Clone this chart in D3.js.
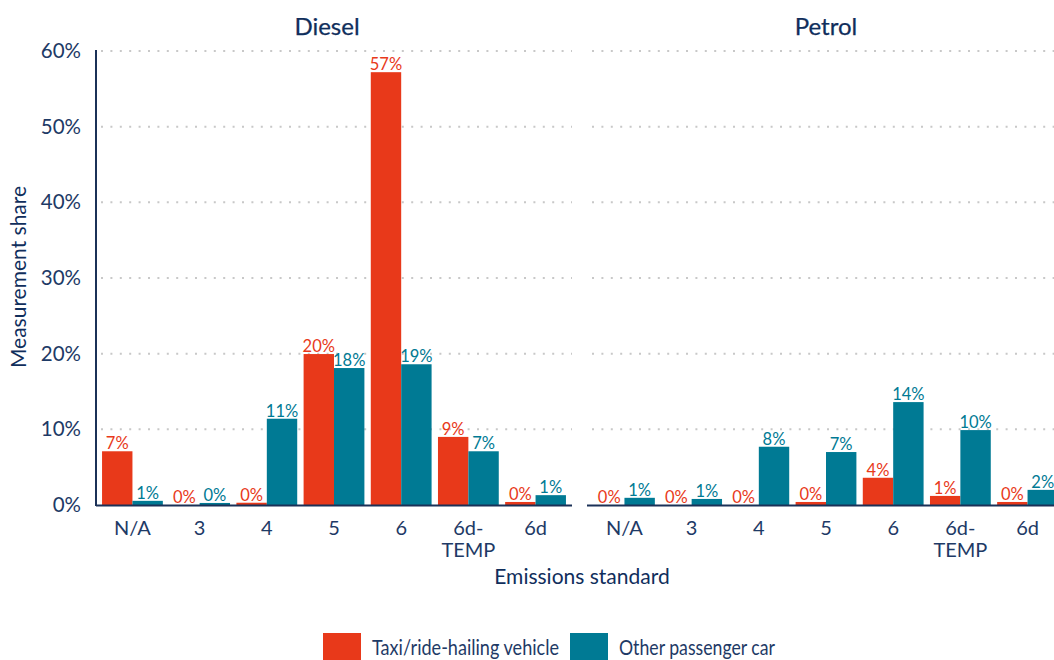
<!DOCTYPE html>
<html>
<head>
<meta charset="utf-8">
<script src="https://cdn.jsdelivr.net/npm/d3@7"></script>
<style>
  html, body { margin: 0; padding: 0; background: #fff; }
  svg { display: block; font-family: Lato, "Open Sans", sans-serif; }
</style>
</head>
<body>
<svg id="chart" width="1054" height="660"></svg>
<script>
// ---- data ----
const categories = ["N/A", "3", "4", "5", "6", "6d-TEMP", "6d"];
const panels = ["Diesel", "Petrol"];
const seriesNames = ["Taxi/ride-hailing vehicle", "Other passenger car"];
const dieselTaxi  = [7.1, 0.0, 0.3, 19.95, 57.2, 9.0, 0.4];
const dieselOther = [0.55, 0.27, 11.4, 18.1, 18.6, 7.1, 1.3];
const petrolTaxi  = [0.0, 0.0, 0.0, 0.4, 3.6, 1.2, 0.4];
const petrolOther = [0.95, 0.8, 7.7, 7.0, 13.6, 9.9, 2.0];
const yTicks = [0, 10, 20, 30, 40, 50, 60];

const colors = ["#E8391A", "#007A94"];
const navy = "#1E3A66";
const titleNavy = "#102E5C";

const svg = d3.select("#chart");
const y = d3.scaleLinear().domain([0, 60]).range([505, 51]);

const panelData = [
  { name: panels[0], series: [dieselTaxi, dieselOther], x0: 96, x1: 572, lineStart: 96 },
  { name: panels[1], series: [petrolTaxi, petrolOther], x0: 588, x1: 1064, lineStart: 587 }
];

// y axis labels (left)
const yAxisG = svg.append("g").attr("transform", "translate(96,0)");
yAxisG.call(d3.axisLeft(y).tickValues(yTicks).tickFormat(d => d + "%").tickSize(0).tickPadding(15))
  .call(g => g.select(".domain").remove())
  .call(g => g.selectAll("text").attr("fill", navy).style("font-size", "20.5px").style("font-family", "Lato, sans-serif"));

panelData.forEach((p, pi) => {
  const x = d3.scaleBand().domain(categories).range([p.x0, p.x1]).paddingInner(0.095).paddingOuter(0.09);
  const xs = d3.scaleBand().domain([0, 1]).range([0, x.bandwidth()]);
  const g = svg.append("g");

  // gridlines
  g.selectAll("line.grid").data(yTicks.filter(t => t > 0)).join("line")
    .attr("x1", p.lineStart + 5).attr("x2", Math.min(p.x1, 1054))
    .attr("y1", d => y(d)).attr("y2", d => y(d))
    .attr("stroke", "#c8c8c8").attr("stroke-width", 2)
    .attr("stroke-dasharray", "2,7.4").attr("stroke-linecap", "butt");

  // bars
  p.series.forEach((vals, si) => {
    g.selectAll("rect.s" + si).data(vals).join("rect")
      .attr("x", (d, i) => x(categories[i]) + xs(si))
      .attr("width", xs.bandwidth())
      .attr("y", d => y(d))
      .attr("height", d => y(0) - y(d))
      .attr("fill", colors[si]);
    g.selectAll("text.l" + si).data(vals).join("text")
      .attr("x", (d, i) => x(categories[i]) + xs(si) + xs.bandwidth() / 2)
      .attr("y", d => y(d) - 2)
      .attr("text-anchor", "middle")
      .attr("fill", colors[si])
      .style("font-size", "16.5px")
      .text(d => Math.round(d) + "%");
  });

  // bottom axis line
  g.append("line").attr("x1", p.lineStart).attr("x2", Math.min(p.x1, 1054))
    .attr("y1", y(0) + 0.5).attr("y2", y(0) + 0.5)
    .attr("stroke", "#1B3157").attr("stroke-width", 2);

  // x tick labels
  const xl = g.selectAll("text.xt").data(categories).join("text")
    .attr("x", d => x(d) + x.bandwidth() / 2)
    .attr("y", 535)
    .attr("text-anchor", "middle")
    .attr("fill", navy)
    .style("font-size", "20px");
  xl.each(function(d) {
    const parts = d === "6d-TEMP" ? ["6d-", "TEMP"] : [d];
    const t = d3.select(this);
    parts.forEach((s, k) => {
      t.append("tspan").attr("x", x(d) + x.bandwidth() / 2).attr("dy", k === 0 ? 0 : 22).text(s);
    });
  });

  // panel title
  g.append("text")
    .attr("x", (p.x0 + (pi === 0 ? p.x1 : 1064)) / 2 + (pi === 0 ? -7 : -0))
    .attr("y", 35)
    .attr("text-anchor", "middle")
    .attr("fill", titleNavy)
    .attr("stroke", titleNavy).attr("stroke-width", 0.25)
    .style("font-size", "24px")
    .text(p.name);
});

// left y axis line
svg.append("line").attr("x1", 96).attr("x2", 96).attr("y1", 50).attr("y2", 506)
  .attr("stroke", "#1B3157").attr("stroke-width", 2);

// axis titles
svg.append("text")
  .attr("transform", "translate(26,277) rotate(-90)")
  .attr("text-anchor", "middle")
  .attr("fill", titleNavy)
  .style("font-size", "21px")
  .text("Measurement share");

svg.append("text")
  .attr("x", 582).attr("y", 584)
  .attr("text-anchor", "middle")
  .attr("fill", titleNavy)
  .style("font-size", "21px")
  .text("Emissions standard");

// legend
const legendX = [323, 570];
const legendLen = [187, 156];
seriesNames.forEach((s, i) => {
  svg.append("rect").attr("x", legendX[i]).attr("y", 633).attr("width", 38).attr("height", 38).attr("fill", colors[i]);
  svg.append("text").attr("x", legendX[i] + 49).attr("y", 655)
    .attr("fill", navy).style("font-size", "20.5px")
    .attr("textLength", legendLen[i]).attr("lengthAdjust", "spacingAndGlyphs")
    .text(s);
});
</script>
</body>
</html>
